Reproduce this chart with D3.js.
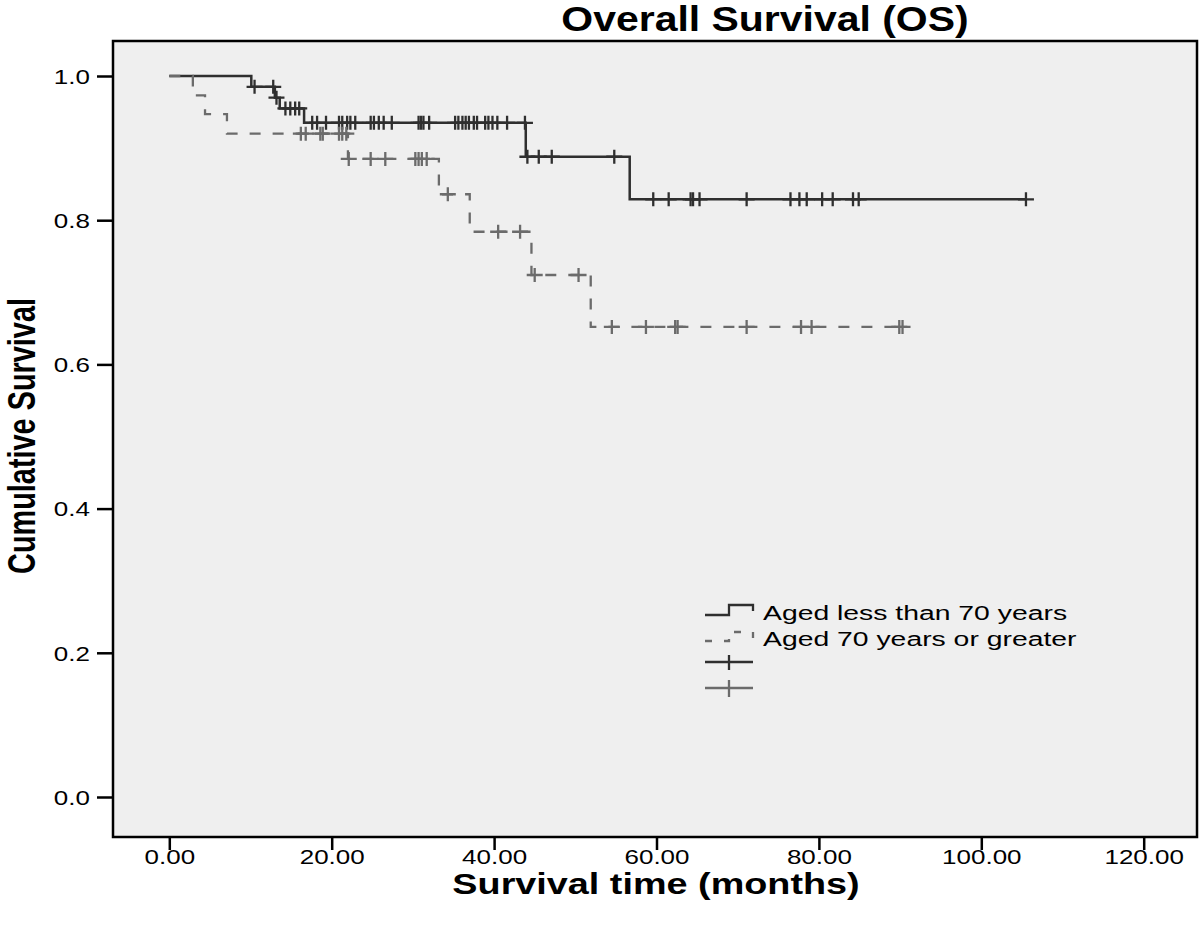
<!DOCTYPE html>
<html lang="en">
<head>
<meta charset="UTF-8">
<title>Overall Survival (OS)</title>
<script src="https://cdn.jsdelivr.net/npm/d3@7"></script>
<style>
  body { margin: 0; background: #fff; }
  text { font-family: "Liberation Sans", Arial, sans-serif; fill: #000; }
</style>
</head>
<body>
<script>

var width = 1200,
    height = 925

var groups = ["Aged less than 70 years", "Aged 70 years or greater"]

// Kaplan-Meier steps: event time (months) and survival after it
var youngTimes = [0, 10.1, 13.0, 13.6, 16.6, 43.9, 56.7]
var youngSurv = [1.0, 0.985, 0.970, 0.955, 0.935, 0.888, 0.829]
var youngLast = 105.5
var youngCensored = [10.5, 12.8, 13.2, 14.3, 14.9, 15.5, 16.0, 17.6, 18.2, 19.3, 20.9, 21.3,
  21.9, 22.3, 22.9, 24.8, 25.2, 25.8, 26.4, 27.4, 30.7, 31.0, 31.3, 32.0, 35.2, 35.6, 36.1,
  36.5, 36.9, 37.5, 37.9, 38.9, 39.3, 39.8, 40.4, 41.6, 43.8, 44.1, 45.5, 47.1, 54.8, 59.6,
  61.5, 64.2, 64.5, 65.3, 71.1, 76.5, 77.6, 78.5, 80.4, 81.7, 84.2, 84.9, 105.5]

var oldTimes = [0, 2.9, 4.4, 7.1, 22.0, 33.2, 37.0, 44.6, 51.9]
var oldSurv = [1.0, 0.973, 0.947, 0.920, 0.885, 0.836, 0.784, 0.724, 0.652]
var oldLast = 90.3
var oldCensored = [16.2, 16.8, 18.6, 18.9, 20.9, 21.3, 21.8, 22.1, 24.8, 26.6, 30.3, 30.7,
  31.1, 31.7, 34.3, 40.5, 43.2, 45.0, 50.4, 54.5, 58.7, 62.3, 62.6, 71.1, 77.8, 79.1, 89.9, 90.3]

var xTicks = [0, 20, 40, 60, 80, 100, 120]
var yTicks = [0, 0.2, 0.4, 0.6, 0.8, 1.0]

var frame = {left: 113, top: 41, right: 1197, bottom: 837}
var stretch = 1.3   // text in the picture is drawn wide

var svg = d3.select("body").append("svg")
    .attr("width", width)
    .attr("height", height)

var x = d3.scaleLinear().domain([0, 120]).range([169.3, 1143.7])
var y = d3.scaleLinear().domain([0, 1]).range([797, 76])

svg.append("rect")
    .attr("x", frame.left).attr("y", frame.top)
    .attr("width", frame.right - frame.left)
    .attr("height", frame.bottom - frame.top)
    .attr("fill", "#efefef")

// axes
var xAxis = svg.append("g")
    .attr("transform", "translate(0," + frame.bottom + ")")
    .call(d3.axisBottom(x).tickValues(xTicks).tickSizeOuter(0).tickSize(13)
      .tickFormat(function(d){ return d.toFixed(2) }))
xAxis.select(".domain").remove()
xAxis.selectAll("line").attr("stroke", "#000").attr("stroke-width", 2.5)
xAxis.selectAll("text")
    .attr("y", 27).attr("dy", null)
    .attr("transform", "scale(" + stretch + ",1)")
    .style("font-size", "20px")

var yAxis = svg.append("g")
    .attr("transform", "translate(" + frame.left + ",0)")
    .call(d3.axisLeft(y).tickValues(yTicks).tickSizeOuter(0).tickSize(16)
      .tickFormat(d3.format(".1f")))
yAxis.select(".domain").remove()
yAxis.selectAll("line").attr("stroke", "#000").attr("stroke-width", 2.5)
yAxis.selectAll("text")
    .attr("x", -23 / stretch).attr("dy", "0.36em")
    .attr("transform", "scale(" + stretch + ",1)")
    .style("font-size", "20px")

svg.append("rect")
    .attr("x", frame.left).attr("y", frame.top)
    .attr("width", frame.right - frame.left)
    .attr("height", frame.bottom - frame.top)
    .attr("fill", "none")
    .attr("stroke", "#000")
    .attr("stroke-width", 2.5)

// curves
var line = d3.line()
    .x(function(d){ return x(d[0]) })
    .y(function(d){ return y(d[1]) })
    .curve(d3.curveStepAfter)

function stepPoints(times, surv, last) {
  var pts = times.map(function(t, i){ return [t, surv[i]] })
  pts.push([last, surv[surv.length - 1]])
  return pts
}

function survAt(times, surv, t) {
  var i = d3.bisectRight(times, t) - 1
  return surv[Math.max(i, 0)]
}

var series = [
  {times: youngTimes, surv: youngSurv, last: youngLast, cens: youngCensored,
   color: "#2f2f2f", dash: null, width: 2.5},
  {times: oldTimes, surv: oldSurv, last: oldLast, cens: oldCensored,
   color: "#6b6b6b", dash: "11,12", width: 2.3}
]

series.forEach(function(s){
  svg.append("path")
      .datum(stepPoints(s.times, s.surv, s.last))
      .attr("d", line)
      .attr("fill", "none")
      .attr("stroke", s.color)
      .attr("stroke-width", s.width)
      .attr("stroke-dasharray", s.dash)
})

series.forEach(function(s){
  svg.append("g").selectAll("path")
      .data(s.cens).enter()
      .append("path")
      .attr("d", function(t){
        var cx = x(t), cy = y(survAt(s.times, s.surv, t))
        return "M" + (cx - 8) + "," + cy + "H" + (cx + 8) +
               "M" + cx + "," + (cy - 7) + "V" + (cy + 7)
      })
      .attr("stroke", s.color)
      .attr("stroke-width", 2.3)
      .attr("fill", "none")
})

// legend
var legend = svg.append("g")
var lg = d3.line()
legend.append("path")
    .attr("d", lg([[705, 615], [729, 615], [729, 605], [753, 605], [753, 611]]))
    .attr("fill", "none").attr("stroke", series[0].color).attr("stroke-width", 2.3)
legend.append("path")
    .attr("d", lg([[705, 641], [729, 641], [729, 632], [753, 632], [753, 638]]))
    .attr("fill", "none").attr("stroke", series[1].color).attr("stroke-width", 2.3)
    .attr("stroke-dasharray", "7,12")
legend.append("path")
    .attr("d", "M705,662H753M729,655V670")
    .attr("stroke", series[0].color).attr("stroke-width", 2.3)
legend.append("path")
    .attr("d", "M705,688H753M729,680V697")
    .attr("stroke", series[1].color).attr("stroke-width", 2.3)

legend.selectAll("text")
    .data(groups).enter()
    .append("text")
    .attr("transform", function(d, i){ return "translate(763," + (620 + i * 25.5) + ") scale(1.35,1)" })
    .style("font-size", "21px")
    .text(function(d){ return d })

// titles
svg.append("text")
    .attr("transform", "translate(765,31) scale(1.17,1)")
    .attr("text-anchor", "middle")
    .style("font-size", "35px").style("font-weight", "bold")
    .text("Overall Survival (OS)")

svg.append("text")
    .attr("transform", "translate(656,894) scale(1.26,1)")
    .attr("text-anchor", "middle")
    .style("font-size", "30px").style("font-weight", "bold")
    .text("Survival time (months)")

svg.append("text")
    .attr("transform", "translate(35,436) rotate(-90) scale(0.76,1)")
    .attr("text-anchor", "middle")
    .style("font-size", "38px").style("font-weight", "bold")
    .text("Cumulative Survival")

</script>
</body>
</html>
